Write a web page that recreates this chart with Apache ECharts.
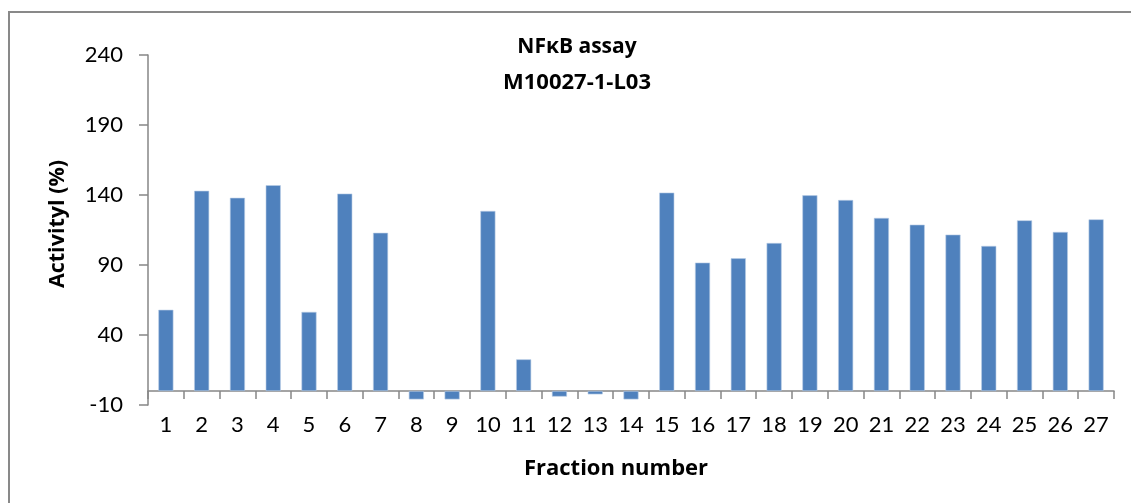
<!DOCTYPE html>
<html>
<head>
<meta charset="utf-8">
<script src="https://cdn.jsdelivr.net/npm/echarts@6/dist/echarts.min.js"></script>
<style>html,body{margin:0;padding:0;background:#fff}#c{width:1131px;height:503px}</style>
</head>
<body>
<div id="c"></div>
<script>
const categories = ['1','2','3','4','5','6','7','8','9','10','11','12','13','14','15','16','17','18','19','20','21','22','23','24','25','26','27'];
const activity = [58, 143, 138, 147, 56.5, 141, 113, -6, -6, 128.6, 22.6, -4, -2.4, -6, 141.7, 91.7, 94.8, 105.7, 139.8, 136.4, 123.6, 118.8, 111.7, 103.6, 121.9, 113.6, 122.6];
const titleLines = ['NFκB assay', 'M10027-1-L03'];
const xTitle = 'Fraction number';
const yTitle = 'Activityl (%)';
const yMin = -10, yMax = 240, yStep = 50;

const FONT = 'Lato';
const TFONT = 'Open Sans';
const chart = echarts.init(document.getElementById('c'));
chart.setOption({
  animation: false,
  backgroundColor: '#fff',
  grid: { left: 148, right: 17, top: 55, bottom: 98, containLabel: false },
  xAxis: [
    {
      type: 'category', data: categories, position: 'bottom',
      axisLine: { show: false, onZero: false },
      axisTick: { show: false },
      axisLabel: { color: '#000', fontSize: 22, fontFamily: FONT, margin: 9, interval: 0 }
    },
    {
      type: 'category', data: categories, position: 'bottom',
      axisLine: { show: true, onZero: true, lineStyle: { color: '#868686', width: 1.5 } },
      axisTick: { show: true, length: 8, inside: false, lineStyle: { color: '#868686', width: 1.5 } },
      axisLabel: { show: false }
    }
  ],
  yAxis: {
    type: 'value', min: yMin, max: yMax, interval: yStep,
    axisLine: { show: true, lineStyle: { color: '#868686', width: 1.5 } },
    axisTick: { show: true, length: 9, lineStyle: { color: '#868686', width: 1.5 } },
    splitLine: { show: false },
    axisLabel: { color: '#000', fontSize: 22, fontFamily: FONT, margin: 25 }
  },
  series: [{
    type: 'bar', data: activity, xAxisIndex: 0, barWidth: '42%',
    itemStyle: { color: '#4F81BD', borderColor: '#B9CDE5', borderWidth: 0.6 }
  }],
  graphic: [
    { type: 'rect', shape: { x: 9, y: 12, width: 1300, height: 700 }, style: { fill: 'none', stroke: '#898989', lineWidth: 2 }, z: -1 },
    { type: 'text', x: 577, y: 47, style: { text: titleLines[0], fontSize: 21, fontWeight: 'bold', fontFamily: TFONT, fill: '#000', textAlign: 'center', textVerticalAlign: 'middle' } },
    { type: 'text', x: 577, y: 83, style: { text: titleLines[1], fontSize: 22, fontWeight: 'bold', fontFamily: TFONT, fill: '#000', textAlign: 'center', textVerticalAlign: 'middle' } },
    { type: 'text', x: 616, y: 469, style: { text: xTitle, fontSize: 22, fontWeight: 'bold', fontFamily: TFONT, fill: '#000', textAlign: 'center', textVerticalAlign: 'middle' } },
    { type: 'text', x: 58, y: 224, rotation: Math.PI / 2, style: { text: yTitle, fontSize: 21.5, fontWeight: 'bold', fontFamily: TFONT, fill: '#000', textAlign: 'center', textVerticalAlign: 'middle' } }
  ]
});
</script>
</body>
</html>
